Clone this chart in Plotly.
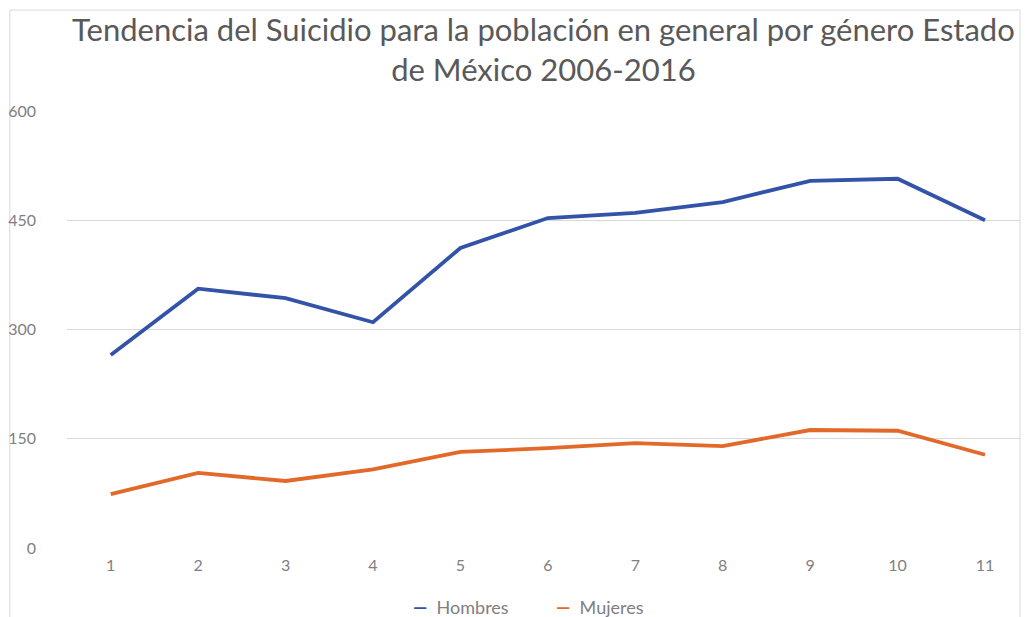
import plotly.graph_objects as go

# Año (1 = 2006 ... 11 = 2016) y número de suicidios por género
periodos = [1, 2, 3, 4, 5, 6, 7, 8, 9, 10, 11]
hombres = [265, 356, 343, 310, 412, 453, 460, 475, 504, 507, 450]
mujeres = [74, 103, 92, 108, 132, 137, 144, 140, 162, 161, 128]
y_ticks = [0, 150, 300, 450, 600]

titulo = "Tendencia del Suicidio para la población en general por género Estado<br>de México 2006-2016"

FONT = "Lato"
GRIS = "#7f7f7f"
AZUL = "#3353A8"
NARANJA = "#E2692A"

fig = go.Figure()
fig.add_trace(go.Scatter(x=periodos, y=hombres, mode="lines", name="Hombres",
                         line=dict(color=AZUL, width=3.8)))
fig.add_trace(go.Scatter(x=periodos, y=mujeres, mode="lines", name="Mujeres",
                         line=dict(color=NARANJA, width=3.8)))

fig.update_layout(
    width=1025, height=617,
    margin=dict(l=67, r=5, t=111, b=69, autoexpand=False),
    paper_bgcolor="white", plot_bgcolor="white",
    showlegend=False,
    xaxis=dict(range=[0.5, 11.4], tickvals=periodos, ticktext=[str(p) for p in periodos],
               showgrid=False, zeroline=False, showline=False, ticks="",
               tickfont=dict(family=FONT, size=16, color=GRIS), ticklabelstandoff=6),
    yaxis=dict(range=[0, 600], tickvals=y_ticks, showgrid=True, gridcolor="#d9d9d9",
               gridwidth=1, zeroline=False, showline=False, ticks="",
               tickfont=dict(family=FONT, size=16, color=GRIS), ticklabelstandoff=30),
)

# Título en dos líneas
fig.add_annotation(text=titulo, xref="paper", yref="paper", x=0.5, y=1.142,
                   xanchor="center", yanchor="middle", showarrow=False,
                   font=dict(family=FONT, size=31, color="#595959"))

# Leyenda inferior: guion de color + nombre de la serie
for nombre, color, xc in [("Hombres", AZUL, 0.413), ("Mujeres", NARANJA, 0.559)]:
    fig.add_annotation(text=f"<span style='color:{color}'><b>—</b></span>  {nombre}",
                       xref="paper", yref="paper", x=xc, y=-0.135,
                       xanchor="center", yanchor="middle", showarrow=False,
                       font=dict(family=FONT, size=18, color=GRIS))

# Marco del área del gráfico
fig.add_shape(type="rect", xref="paper", yref="paper",
              x0=-0.06, x1=1.0, y0=-0.2, y1=1.231,
              line=dict(color="#d9d9d9", width=1), layer="below")

fig.write_html("out.html")
